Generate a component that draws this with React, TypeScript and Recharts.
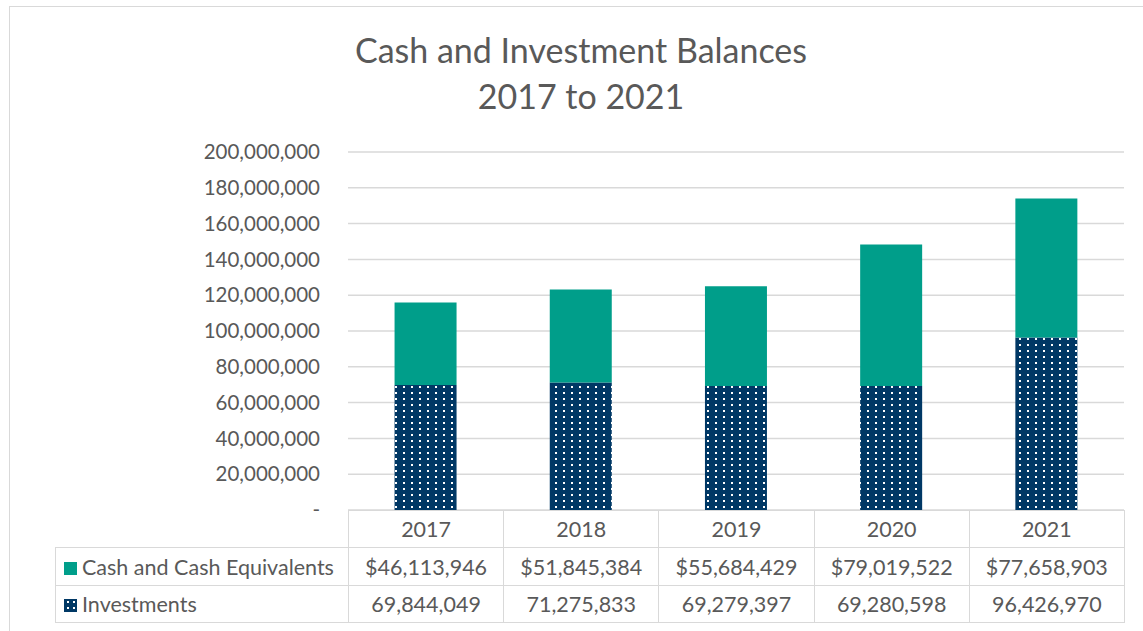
import { BarChart, Bar, XAxis, YAxis, CartesianGrid } from 'recharts';

const years = ['2017', '2018', '2019', '2020', '2021'];
const cash = [46113946, 51845384, 55684429, 79019522, 77658903];
const investments = [69844049, 71275833, 69279397, 69280598, 96426970];
const yTicks = [0, 20000000, 40000000, 60000000, 80000000, 100000000, 120000000, 140000000, 160000000, 180000000, 200000000];

const TEAL = '#009E8A';
const NAVY = '#003865';
const GRID = '#d9d9d9';
const TEXT = '#595959';
const FONT = 'Lato, "Open Sans", sans-serif';

const data = years.map((y, i) => ({ year: y, investments: investments[i], cash: cash[i] }));

const fmt = (v: number) => v.toLocaleString('en-US');
const fmtTick = (v: number) => (v === 0 ? '-' : fmt(v));

const cellBorder = `1.5px solid ${GRID}`;

export default function App() {
  return (
    <div style={{ position: 'absolute', left: 0, top: 0, width: 1143, height: 631, background: '#fff', overflow: 'hidden', fontFamily: FONT }}>
      {/* chart frame */}
      <div style={{ position: 'absolute', left: 9, top: 6, width: 1160, height: 660, border: `1.5px solid ${GRID}` }} />

      {/* title */}
      <div style={{ position: 'absolute', left: 0, top: 27, width: 1162, textAlign: 'center', color: TEXT, fontSize: 34, lineHeight: '46px' }}>
        <div>Cash and Investment Balances</div>
        <div>2017 to 2021</div>
      </div>

      <div style={{ position: 'absolute', left: 0, top: 0 }}>
        <BarChart
          width={1143}
          height={631}
          data={data}
          margin={{ top: 152, right: 19, bottom: 121, left: 0 }}
          barCategoryGap="30%"
        >
          <defs>
            <pattern id="dots" width={8} height={6} patternUnits="userSpaceOnUse">
              <rect width={8} height={6} fill={NAVY} />
              <rect x={3} y={2} width={2} height={2} fill="#fff" />
            </pattern>
          </defs>
          <CartesianGrid vertical={false} stroke={GRID} strokeWidth={1.5} />
          <XAxis dataKey="year" hide />
          <YAxis
            width={348}
            domain={[0, 200000000]}
            ticks={yTicks}
            tickFormatter={fmtTick}
            axisLine={false}
            tickLine={false}
            tickSize={0}
            tickMargin={28}
            tick={{ fill: TEXT, fontSize: 20.5, fontFamily: FONT }}
          />
          <Bar dataKey="investments" stackId="a" fill="url(#dots)" isAnimationActive={false} />
          <Bar dataKey="cash" stackId="a" fill={TEAL} isAnimationActive={false} />
        </BarChart>
      </div>

      {/* data table */}
      <table
        style={{
          position: 'absolute',
          left: 55,
          top: 510,
          borderCollapse: 'collapse',
          color: TEXT,
          fontSize: 21.5,
          fontFamily: FONT,
          tableLayout: 'fixed',
        }}
      >
        <colgroup>
          <col style={{ width: 293 }} />
          {years.map((y) => (
            <col key={y} style={{ width: 155.2 }} />
          ))}
        </colgroup>
        <tbody>
          <tr style={{ height: 37 }}>
            <td />
            {years.map((y) => (
              <td key={y} style={{ border: cellBorder, textAlign: 'center', padding: 0 }}>{y}</td>
            ))}
          </tr>
          <tr style={{ height: 38 }}>
            <td style={{ border: cellBorder, padding: '0 0 0 8px', whiteSpace: 'nowrap' }}>
              <span style={{ display: 'inline-block', width: 13, height: 13, background: TEAL, marginRight: 5, verticalAlign: '0px' }} />
              Cash and Cash Equivalents
            </td>
            {cash.map((v, i) => (
              <td key={i} style={{ border: cellBorder, textAlign: 'center', padding: 0 }}>${fmt(v)}</td>
            ))}
          </tr>
          <tr style={{ height: 37 }}>
            <td style={{ border: cellBorder, padding: '0 0 0 8px', whiteSpace: 'nowrap' }}>
              <svg width={13} height={13} style={{ marginRight: 5, verticalAlign: '0px' }}>
                <rect width={13} height={13} fill={NAVY} />
                <rect x={3} y={2} width={2} height={2} fill="#fff" />
                <rect x={9} y={2} width={2} height={2} fill="#fff" />
                <rect x={3} y={8} width={2} height={2} fill="#fff" />
                <rect x={9} y={8} width={2} height={2} fill="#fff" />
              </svg>
              Investments
            </td>
            {investments.map((v, i) => (
              <td key={i} style={{ border: cellBorder, textAlign: 'center', padding: 0 }}>{fmt(v)}</td>
            ))}
          </tr>
        </tbody>
      </table>
    </div>
  );
}
